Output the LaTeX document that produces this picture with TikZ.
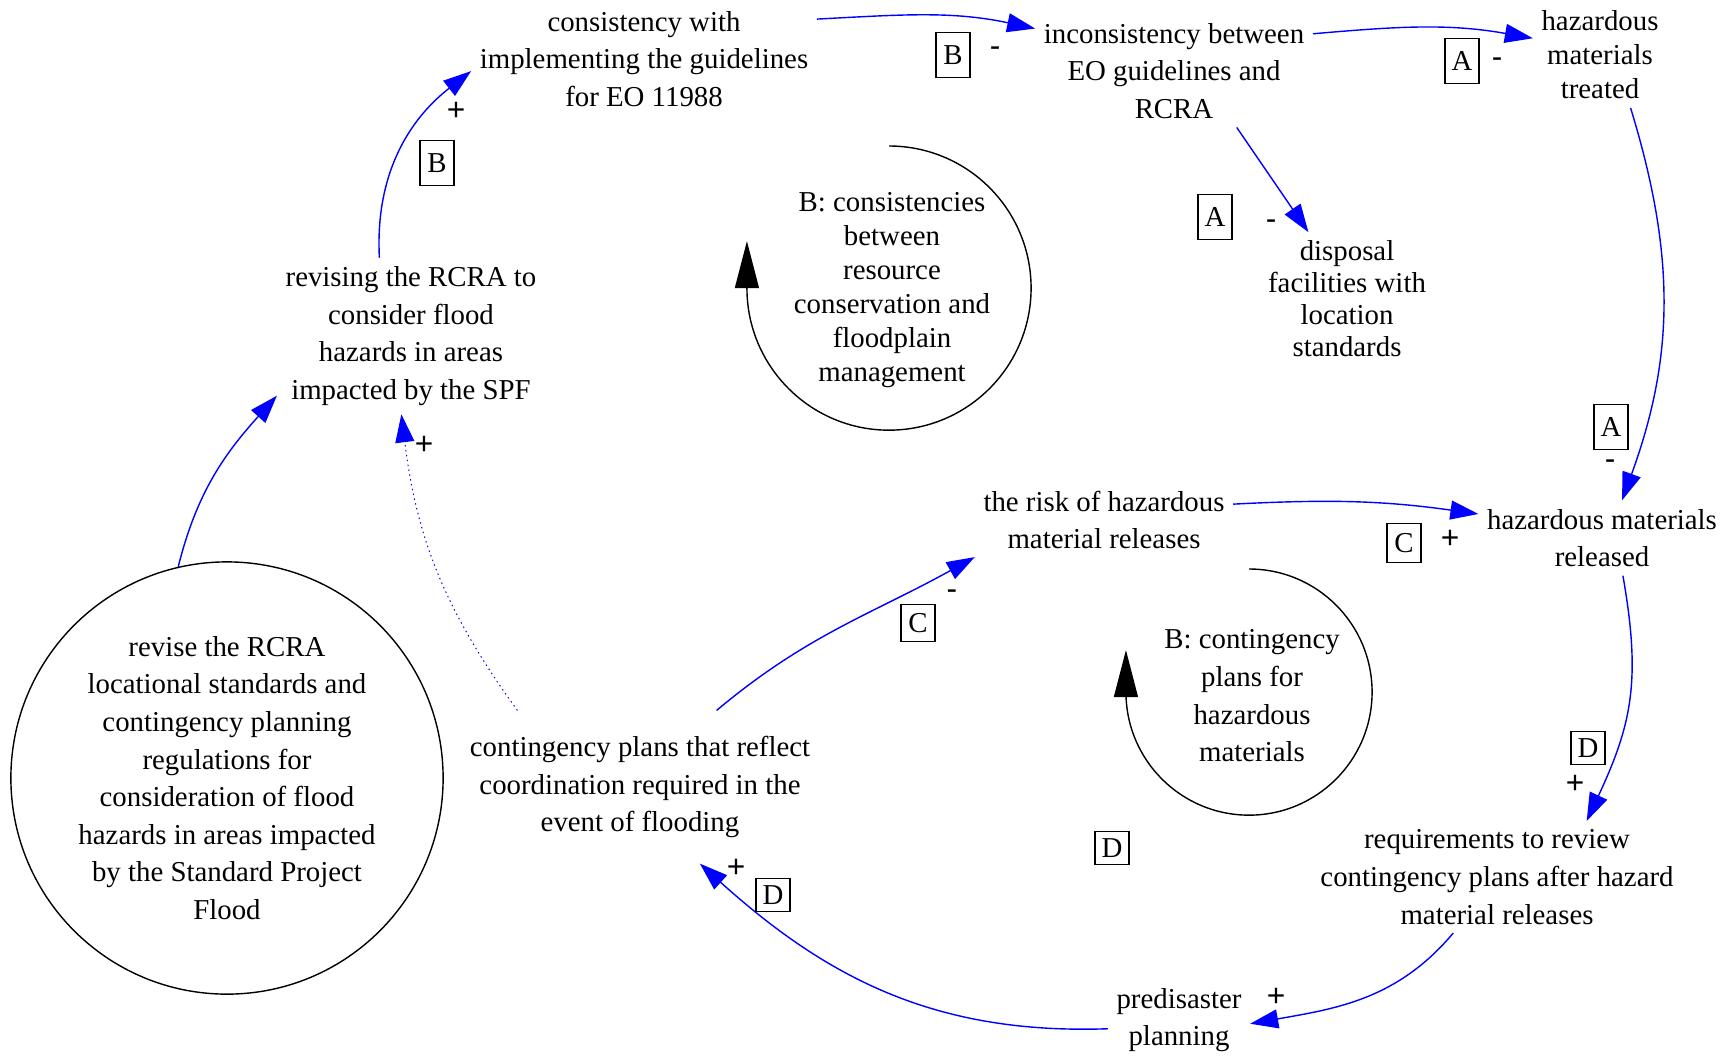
\documentclass[tikz,border=0pt]{standalone}
\usepackage{fontspec}
\setmainfont{Liberation Serif}
\setsansfont{Liberation Sans}
\usetikzlibrary{arrows.meta}

\begin{document}
\begin{tikzpicture}[
    x=0.01cm, y=-0.01cm,
    var/.style={align=center, inner sep=0.08cm, font=\fontsize{8.2}{10.7}\selectfont},
    lskip/.style={font=\fontsize{8.2}{#1}\selectfont},
    labbox/.style={draw, line width=0.012cm, minimum width=0.34cm, minimum height=#1, inner sep=0pt, font=\fontsize{8.2}{10}\selectfont},
    labbox/.default=0.45cm,
    sgn/.style={inner sep=0pt, font=\sffamily\fontsize{9}{10}\selectfont},
    link/.style={-{Triangle[length=0.28cm,width=0.19cm]}, blue, line width=0.014cm},
    weak/.style={link, densely dotted, line width=0.01cm},
    loopback/.style={-{Triangle[length=0.47cm,width=0.24cm]}, black, line width=0.014cm}
]
    \useasboundingbox (0,0) rectangle (1731,1057);

    % variables
    \node[var] (n1) at (644,59) {consistency with\\implementing the guidelines\\for EO 11988};
    \node[var] (n2) at (1174,71) {inconsistency between\\EO guidelines and\\RCRA};
    \node[var, lskip=9.7pt] (n3) at (1600,55) {hazardous\\materials\\treated};
    \node[var, lskip=9.1pt] (n4) at (1347,299) {disposal\\facilities with\\location\\standards};
    \node[var] (n6) at (411,336) {revising the RCRA to\\consider flood\\hazards in areas\\impacted by the SPF};
    \node[var, circle, draw, line width=0.014cm, inner sep=0pt, minimum size=4.32cm] (n7) at (227,778) {revise the RCRA\\locational standards and\\contingency planning\\regulations for\\consideration of flood\\hazards in areas impacted\\by the Standard Project\\Flood};
    \node[var, inner ysep=0.25cm] (n8) at (640,787) {contingency plans that reflect\\coordination required in the\\event of flooding};
    \node[var] (n9) at (1104,520) {the risk of hazardous\\material releases};
    \node[var] (n10) at (1602,538) {hazardous materials\\released};
    \node[var] (n11) at (1497,877) {requirements to review\\contingency plans after hazard\\material releases};
    \node[var] (n12) at (1179,1020) {predisaster\\planning};

    % loops
    \node[var, lskip=9.7pt] (loopB1) at (892,290) {B: consistencies\\between\\resource\\conservation and\\floodplain\\management};
    \node[var] (loopB2) at (1252,696) {B: contingency\\plans for\\hazardous\\materials};
    \draw[loopback] (889,146) arc[start angle=90, end angle=-180, radius=1.42cm] -- ++(0,-47);
    \draw[loopback] (1249,569) arc[start angle=90, end angle=-180, radius=1.23cm] -- ++(0,-42);

    % links
    \draw[link] (n7.103) to[out=76, in=228] (n6.204);
    \draw[link] (n6.112) to[out=93, in=218] (n1.184);
    \draw[link] (n1.13) to[out=3, in=168] (n2.163);
    \draw[link] (n2.15) to[out=5, in=170] (n3.166);
    \draw[link] (n2.-42) -- (n4.120);
    \draw[link] (n3.-60) to[out=-73, in=70] (n10.62);
    \draw[link] (n9.7) to[out=3, in=172] (n10.169);
    \draw[link] (n10.-61) to[out=-80, in=65, looseness=1.1] (n11.32);
    \draw[link] (n11.232) to[out=230, in=10] (n12.-3);
    \draw[link] (n12.187) to[out=182, in=-42] (n8.-52);
    \draw[link] (n8.45) to[out=40, in=209] (n9.196);
    \draw[weak] (n8.148) to[out=126, in=-83] (n6.-97);

    % polarities and loop tags
    \node[sgn] (s1) at (456,111) {+};
    \node[labbox] (t1) at (437,163) {B};
    \node[labbox] (t2) at (953,55) {B};
    \node[sgn] (s2) at (995,52) {-};
    \node[labbox] (t3) at (1462,61) {A};
    \node[sgn] (s3) at (1497,63) {-};
    \node[labbox] (t4) at (1215,217) {A};
    \node[sgn] (s4) at (1271,225) {-};
    \node[labbox] (t5) at (1611,427) {A};
    \node[sgn] (s5) at (1610,465) {-};
    \node[labbox=0.39cm] (t6) at (1404,543) {C};
    \node[sgn] (s6) at (1450,539) {+};
    \node[labbox=0.33cm] (t7) at (1588,748) {D};
    \node[sgn] (s7) at (1575,784) {+};
    \node[sgn] (s8) at (1276,997) {+};
    \node[sgn] (s9) at (736,868) {+};
    \node[labbox=0.33cm] (t8) at (773,895) {D};
    \node[labbox=0.37cm] (t9) at (918,623) {C};
    \node[sgn] (s10) at (952,595) {-};
    \node[sgn] (s11) at (424,445) {+};
    \node[labbox=0.33cm] (t10) at (1112,848) {D};
\end{tikzpicture}
\end{document}
